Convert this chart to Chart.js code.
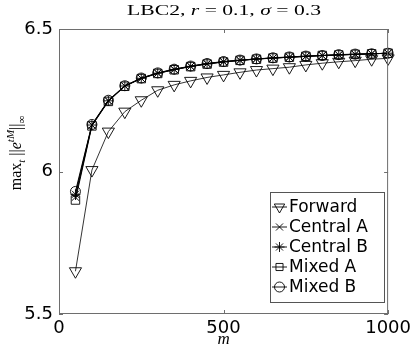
<!DOCTYPE html>
<html>
<head>
<meta charset="utf-8">
<script src="https://cdn.jsdelivr.net/npm/chart.js@4.4.1/dist/chart.umd.min.js"></script>
<style>
  html, body { margin: 0; padding: 0; background: #fff; }
</style>
</head>
<body>
<canvas id="chart" width="415" height="351"></canvas>
<script>
// grid sizes m
const mValues = [50, 100, 150, 200, 250, 300, 350, 400, 450, 500,
                 550, 600, 650, 700, 750, 800, 850, 900, 950, 1000];

// max_t ||e^{tM}||_inf per scheme
const forward  = [5.65, 6.005, 6.14, 6.21, 6.25, 6.285, 6.304, 6.318, 6.33, 6.339,
                  6.348, 6.356, 6.361, 6.366, 6.374, 6.38, 6.385, 6.389, 6.394, 6.397];
const centralA = [5.91, 6.163, 6.248, 6.30, 6.327, 6.345, 6.358, 6.369, 6.378, 6.385,
                  6.39, 6.395, 6.398, 6.401, 6.404, 6.407, 6.409, 6.411, 6.413, 6.415];
const centralB = [5.92, 6.163, 6.248, 6.30, 6.327, 6.345, 6.358, 6.369, 6.378, 6.385,
                  6.39, 6.395, 6.398, 6.401, 6.404, 6.407, 6.409, 6.411, 6.413, 6.415];
const mixedA   = [5.90, 6.16, 6.246, 6.299, 6.326, 6.344, 6.357, 6.368, 6.377, 6.384,
                  6.39, 6.394, 6.398, 6.401, 6.404, 6.407, 6.409, 6.411, 6.413, 6.415];
const mixedB   = [5.93, 6.165, 6.25, 6.301, 6.328, 6.346, 6.359, 6.37, 6.379, 6.386,
                  6.391, 6.395, 6.399, 6.402, 6.405, 6.407, 6.41, 6.412, 6.413, 6.415];

const seriesNames = ['Forward', 'Central A', 'Central B', 'Mixed A', 'Mixed B'];
const xTicks = [0, 500, 1000];
const yTicks = [5.5, 6, 6.5];

const AXIS_COL = '#6e6e6e';

function pts(vals) {
  return vals.map((v, i) => ({ x: mValues[i], y: v }));
}

const markerStyles = [
  { pointStyle: 'triangle', rotation: 180, radius: 7, lw: 0.8 },
  { pointStyle: 'crossRot', rotation: 0, radius: 5, lw: 1 },
  { pointStyle: 'star', rotation: 0, radius: 5, lw: 1 },
  { pointStyle: 'rect', rotation: 0, radius: 6, lw: 1 },
  { pointStyle: 'circle', rotation: 0, radius: 5, lw: 1 }
];

const allSeries = [forward, centralA, centralB, mixedA, mixedB];

const datasets = allSeries.map((vals, i) => ({
  label: seriesNames[i],
  data: pts(vals),
  borderColor: '#000',
  borderWidth: markerStyles[i].lw,
  pointStyle: markerStyles[i].pointStyle,
  pointRotation: markerStyles[i].rotation,
  pointRadius: markerStyles[i].radius,
  pointBorderColor: '#000',
  pointBackgroundColor: 'rgba(0,0,0,0)',
  pointBorderWidth: 0.9,
  fill: false,
  tension: 0,
  clip: false
}));

// draw one marker (legend)
function marker(ctx, style, r, x, y) {
  ctx.beginPath();
  if (style === 'triangle') {
    ctx.moveTo(x - r * 0.866, y - r * 0.5);
    ctx.lineTo(x + r * 0.866, y - r * 0.5);
    ctx.lineTo(x, y + r);
    ctx.closePath();
  } else if (style === 'circle') {
    ctx.arc(x, y, r, 0, Math.PI * 2);
  } else if (style === 'rect') {
    const s = r / Math.SQRT2;
    ctx.rect(x - s, y - s, 2 * s, 2 * s);
  } else {
    const d = r / Math.SQRT2;
    ctx.moveTo(x - d, y - d); ctx.lineTo(x + d, y + d);
    ctx.moveTo(x + d, y - d); ctx.lineTo(x - d, y + d);
    if (style === 'star') {
      ctx.moveTo(x, y - r); ctx.lineTo(x, y + r);
      ctx.moveTo(x - r, y); ctx.lineTo(x + r, y);
    }
  }
  ctx.stroke();
}

// draw a run of text pieces {t, it, size, dy}
function runs(ctx, parts, x, y, family) {
  let cx = x;
  parts.forEach(p => {
    ctx.font = (p.it ? 'italic ' : '') + p.size + 'px ' + family;
    ctx.fillText(p.t, cx, y + (p.dy || 0));
    cx += ctx.measureText(p.t).width;
  });
  return cx - x;
}
function runsWidth(ctx, parts, family) {
  let w = 0;
  parts.forEach(p => {
    ctx.font = (p.it ? 'italic ' : '') + p.size + 'px ' + family;
    w += ctx.measureText(p.t).width;
  });
  return w;
}

const framePlugin = {
  id: 'frame',
  afterDraw(chart) {
    const ctx = chart.ctx;
    const a = chart.chartArea;
    const xs = chart.scales.x, ys = chart.scales.y;
    ctx.save();

    // axes box + inward ticks
    ctx.strokeStyle = AXIS_COL;
    ctx.lineWidth = 1;
    ctx.strokeRect(a.left + 0.5, a.top + 0.5, a.right - a.left - 1, a.bottom - a.top - 1);
    ctx.beginPath();
    xs.ticks.forEach(t => {
      const px = Math.round(xs.getPixelForValue(t.value)) + 0.5;
      ctx.moveTo(px, a.bottom); ctx.lineTo(px, a.bottom - 4);
      ctx.moveTo(px, a.top); ctx.lineTo(px, a.top + 4);
    });
    ys.ticks.forEach(t => {
      const py = Math.round(ys.getPixelForValue(t.value)) + 0.5;
      ctx.moveTo(a.left, py); ctx.lineTo(a.left + 4, py);
      ctx.moveTo(a.right, py); ctx.lineTo(a.right - 4, py);
    });
    ctx.stroke();

    ctx.fillStyle = '#000';
    ctx.textBaseline = 'alphabetic';
    ctx.textAlign = 'left';
    const serif = '"Liberation Serif", "DejaVu Serif", serif';

    // title
    const title = [
      { t: 'LBC2, ', size: 15 },
      { t: 'r', it: true, size: 15 },
      { t: ' = 0.1, ', size: 15 },
      { t: 'σ', it: true, size: 15 },
      { t: ' = 0.3', size: 15 }
    ];
    const tw = runsWidth(ctx, title, serif);
    ctx.save();
    ctx.translate(127, 15);
    ctx.scale(194 / tw, 1);
    runs(ctx, title, 0, 0, serif);
    ctx.restore();

    // x label
    ctx.font = 'italic 17px ' + serif;
    ctx.textAlign = 'center';
    ctx.fillText('m', (a.left + a.right) / 2, 344);
    ctx.textAlign = 'left';

    // y label
    const ylab = [
      { t: 'max', size: 16 },
      { t: 't', it: true, size: 11, dy: 4 },
      { t: ' ||', size: 16 },
      { t: 'e', it: true, size: 16 },
      { t: 'tM', it: true, size: 11, dy: -7 },
      { t: '||', size: 16 },
      { t: '∞', size: 11, dy: 4 }
    ];
    const yw = runsWidth(ctx, ylab, serif);
    ctx.save();
    ctx.translate(21, 153 + yw / 2);
    ctx.rotate(-Math.PI / 2);
    runs(ctx, ylab, 0, 0, serif);
    ctx.restore();

    // legend
    const lx = 270, ly = 192, lw = 114, lh = 110;
    ctx.fillStyle = '#fff';
    ctx.fillRect(lx, ly, lw, lh);
    ctx.strokeStyle = '#555';
    ctx.strokeRect(lx + 0.5, ly + 0.5, lw, lh);
    ctx.font = '17px "DejaVu Sans", sans-serif';
    ctx.textBaseline = 'middle';
    chart.data.datasets.forEach((ds, i) => {
      const y = ly + 15 + i * 20;
      ctx.strokeStyle = '#000';
      ctx.lineWidth = 0.9;
      ctx.beginPath();
      ctx.moveTo(272, y); ctx.lineTo(287, y);
      ctx.stroke();
      const ms = markerStyles[i];
      marker(ctx, ms.pointStyle, ms.pointStyle === 'triangle' ? 6 : 5, 279.5, y);
      ctx.fillStyle = '#000';
      ctx.fillText(ds.label, 289, y + 1);
    });
    ctx.restore();
  }
};

new Chart(document.getElementById('chart'), {
  type: 'line',
  data: { datasets },
  options: {
    responsive: false,
    animation: false,
    devicePixelRatio: 1,
    layout: { padding: { left: 0, right: 26, top: 29, bottom: 0 } },
    plugins: { legend: { display: false }, title: { display: false }, tooltip: { enabled: false } },
    scales: {
      x: {
        type: 'linear',
        min: 0, max: 1000,
        grid: { display: false, drawTicks: false },
        border: { display: false },
        afterBuildTicks: s => { s.ticks = xTicks.map(v => ({ value: v })); },
        afterFit: s => { s.height = 37; },
        ticks: {
          padding: 4,
          maxRotation: 0,
          color: '#000',
          font: { family: '"DejaVu Sans", sans-serif', size: 18 },
          callback: v => String(v)
        }
      },
      y: {
        type: 'linear',
        min: 5.5, max: 6.5,
        grid: { display: false, drawTicks: false },
        border: { display: false },
        afterBuildTicks: s => { s.ticks = yTicks.map(v => ({ value: v })); },
        afterFit: s => { s.width = 59; },
        ticks: {
          padding: 6,
          color: '#000',
          font: { family: '"DejaVu Sans", sans-serif', size: 18 },
          callback: v => String(v)
        }
      }
    }
  },
  plugins: [framePlugin]
});
</script>
</body>
</html>
